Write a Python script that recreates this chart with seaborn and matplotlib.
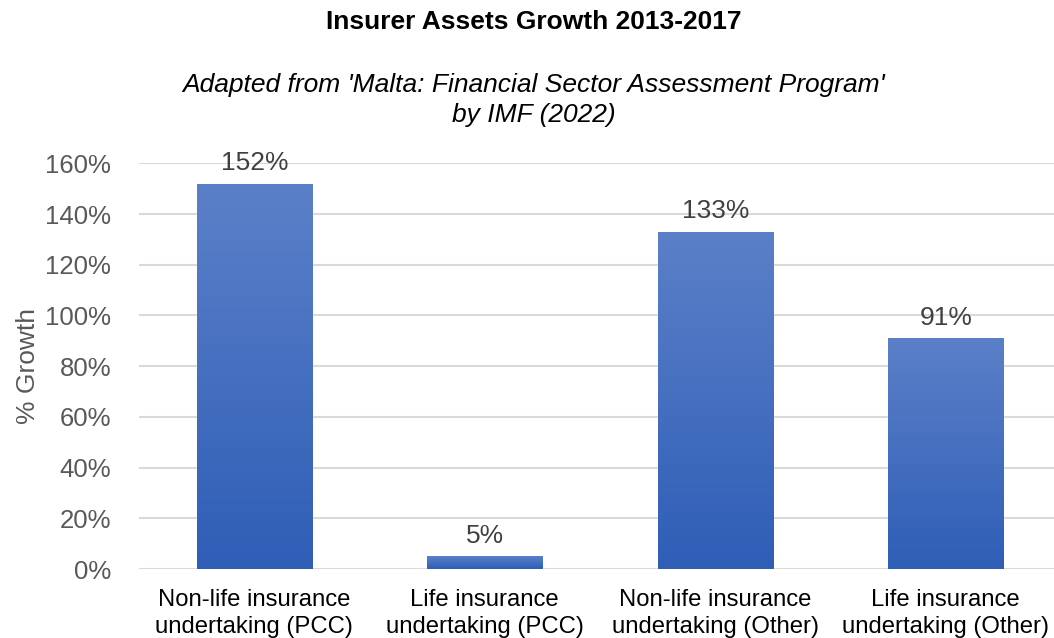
import numpy as np
import matplotlib
matplotlib.use("Agg")
import matplotlib.pyplot as plt
import seaborn as sns
import pandas as pd
from matplotlib.colors import LinearSegmentedColormap
from matplotlib.ticker import FuncFormatter

categories = ["Non-life insurance\nundertaking (PCC)", "Life insurance\nundertaking (PCC)",
              "Non-life insurance\nundertaking (Other)", "Life insurance\nundertaking (Other)"]
growth = [152, 5, 133, 91]
yticks = [0, 20, 40, 60, 80, 100, 120, 140, 160]

sns.set_theme(style="white")
plt.rcParams['font.family'] = ['Liberation Sans', 'DejaVu Sans']

df = pd.DataFrame({"cat": categories, "growth": growth})

fig = plt.figure(figsize=(10.54, 6.38), dpi=100)
ax = fig.add_axes([0.132, 0.108, 0.868, 0.636])

sns.barplot(data=df, x="cat", y="growth", ax=ax, color="#4472c4", width=0.5,
            saturation=1, zorder=2)

cmap = LinearSegmentedColormap.from_list("g", ["#2f5eb7", "#5b80c8"])
grad = np.linspace(0, 1, 256).reshape(-1, 1)
for p in ax.patches:
    x0, y0 = p.get_x(), p.get_y()
    w, h = p.get_width(), p.get_height()
    im = ax.imshow(grad, cmap=cmap, origin="lower", aspect="auto",
                   extent=[x0, x0 + w, y0, y0 + h], zorder=3)
    im.set_clip_path(p)

ax.set_xlim(-0.5, 3.47)
ax.set_ylim(0, 160)
ax.set_yticks(yticks)
ax.yaxis.set_major_formatter(FuncFormatter(lambda v, _: f"{v:.0f}%"))
ax.grid(axis="y", color="#d9d9d9", linewidth=1.5, zorder=0)
ax.set_axisbelow(True)
for s in ax.spines.values():
    s.set_visible(False)
ax.tick_params(axis="y", labelsize=18.5, labelcolor="#595959", length=0, pad=20)
ax.tick_params(axis="x", labelsize=17.2, labelcolor="#000000", length=0, pad=14)
for t in ax.get_xticklabels():
    t.set_linespacing(1.3)
ax.set_xlabel("")
ax.set_ylabel("% Growth", fontsize=19, color="#595959", labelpad=4)

ax.bar_label(ax.containers[0], labels=[f"{v}%" for v in growth], padding=6,
             fontsize=19, color="#404040")

fig.text(0.506, 0.965, "Insurer Assets Growth 2013-2017", ha="center", va="center",
         fontsize=19, fontweight="bold", color="#000000")
fig.text(0.506, 0.843, "Adapted from 'Malta: Financial Sector Assessment Program'\nby IMF (2022)",
         ha="center", va="center", fontsize=19, fontstyle="italic", color="#000000",
         linespacing=1.3)

fig.savefig("out.png", dpi=100)
